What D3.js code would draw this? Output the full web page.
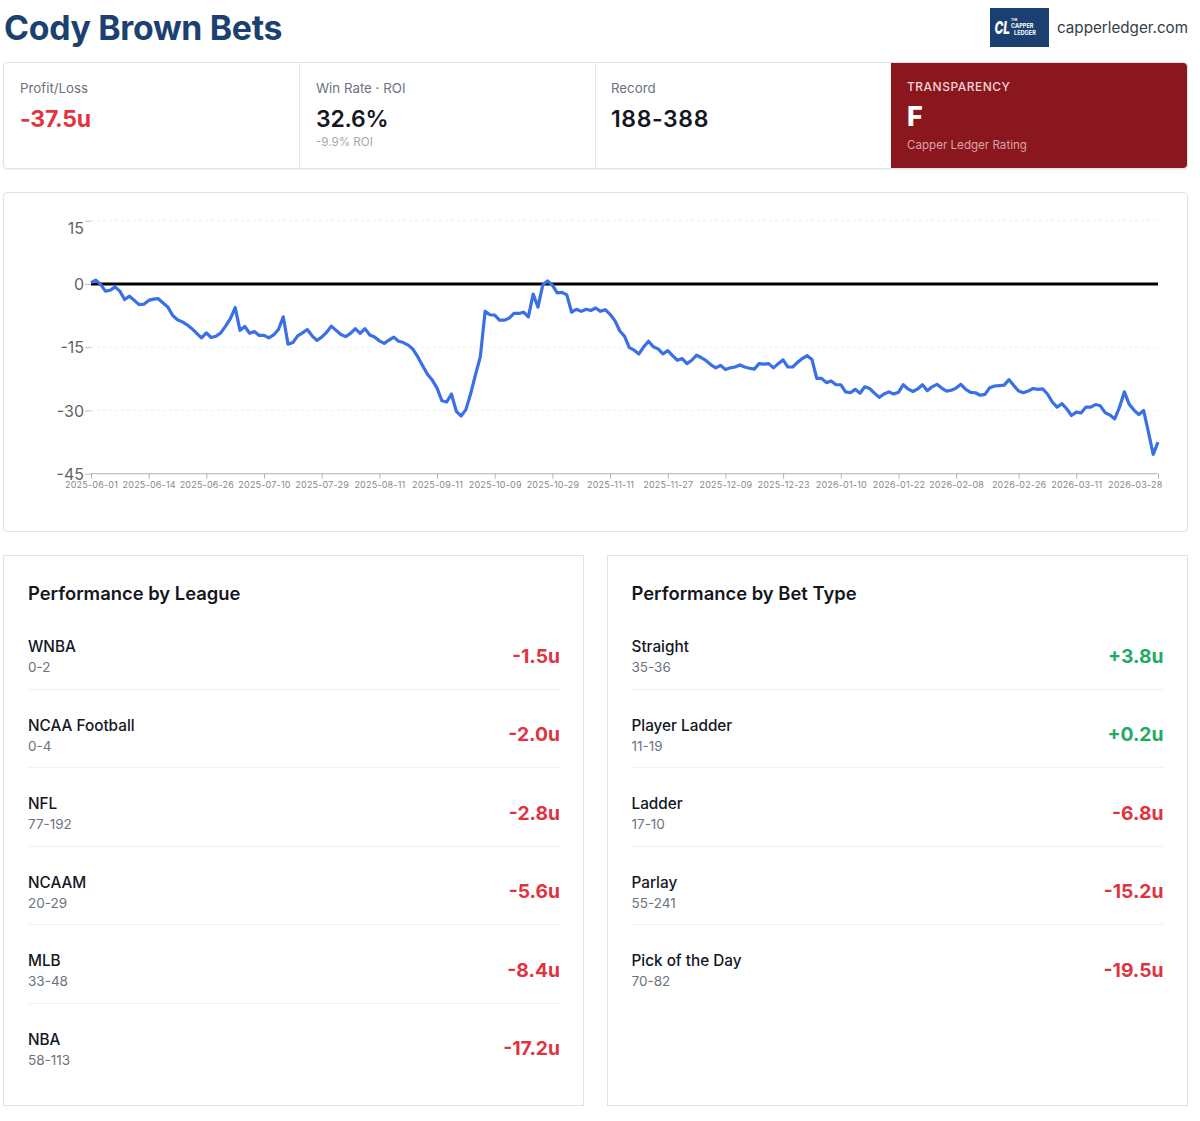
<!DOCTYPE html>
<html>
<head>
<meta charset="utf-8">
<script src="https://cdn.jsdelivr.net/npm/d3@7"></script>
<style>
    html, body { margin: 0; padding: 0; background: #fff; font-family: Inter, "Noto Sans", sans-serif; }
    #page { position: relative; width: 1200px; height: 1121px; overflow: hidden; }
    #page div { position: absolute; box-sizing: border-box; white-space: nowrap; }
    .card { background: #fff; border: 1px solid #dfe2e6; }
</style>
</head>
<body>
<div id="page"></div>
<script>
// cumulative profit, one value per bet day
const profit = [
    0.3, 0.9, -0.1, -1.7, -1.5, -0.7, -1.7, -3.7, -2.9, -3.9, -4.9, -4.8,
    -3.9, -3.6, -3.5, -4.5, -5.5, -7.5, -8.5, -9, -9.7, -10.6, -11.7, -12.8,
    -11.6, -12.7, -12.4, -11.6, -10, -8.2, -5.6, -11, -10.1, -11.7, -11.3, -12.2,
    -12.2, -12.8, -12.1, -10.8, -7.8, -14.3, -13.9, -12.3, -11.6, -10.8, -12.3, -13.4,
    -12.6, -11.5, -10, -11, -12, -12.5, -11.7, -10.6, -11.7, -10.6, -12.1, -12.6,
    -13.5, -14.1, -13.3, -12.6, -13.6, -13.9, -14.5, -15.5, -17.3, -19.4, -21.4, -22.8,
    -24.7, -27.7, -28, -26.1, -30.2, -31.3, -29.8, -26, -21.5, -17.3, -6.5, -7.3,
    -7.4, -8.6, -8.6, -8.1, -7, -7, -6.7, -7.8, -2.4, -5.5, -0.2, 0.7,
    -0.3, -2.1, -2, -2.6, -6.7, -6, -6.5, -6, -6.3, -5.7, -6.5, -6.1,
    -7.2, -8.7, -11.1, -12.4, -15.1, -15.7, -16.6, -14.9, -13.6, -14.9, -15.4, -16.6,
    -15.8, -17, -18.1, -17.7, -18.9, -18.1, -16.9, -17.5, -18.2, -19.2, -19.9, -19.3,
    -20.3, -19.9, -19.7, -19.2, -19.7, -20, -20.2, -18.9, -19, -18.9, -19.9, -18.9,
    -18, -19.7, -19.7, -18.6, -17.7, -17, -17.9, -22.4, -22.4, -23.4, -23, -23.9,
    -23.9, -25.6, -25.8, -25, -25.9, -24.4, -24.8, -25.9, -26.9, -26.1, -25.6, -26.1,
    -25.7, -23.9, -24.9, -25.5, -24.9, -23.9, -25.3, -24.4, -23.8, -24.7, -25.4, -25.2,
    -24.7, -23.8, -25, -25.7, -25.8, -26.4, -26.2, -24.6, -24.2, -24.1, -24, -22.7,
    -24.1, -25.4, -25.8, -25.4, -24.8, -25, -24.9, -26.1, -28, -29.2, -28.4, -29.6,
    -31.2, -30.4, -30.6, -29.2, -29.2, -28.6, -28.9, -30.5, -31.1, -32, -29.2, -25.6,
    -28.5, -29.9, -31, -30, -35.1, -40.4, -37.5
];
const dateLabels = [
    '2025-06-01', '2025-06-14', '2025-06-26', '2025-07-10', '2025-07-29', '2025-08-11',
    '2025-09-11', '2025-10-09', '2025-10-29', '2025-11-11', '2025-11-27', '2025-12-09',
    '2025-12-23', '2026-01-10', '2026-01-22', '2026-02-08', '2026-02-26', '2026-03-11', '2026-03-28'
];
const dateLabelIndex = [0, 12, 24, 36, 48, 60, 72, 84, 96, 108, 120, 132, 144, 156, 168, 180, 193, 205, 222];
const profitTicks = [15, 0, -15, -30, -45];

const leagueNames = ['WNBA', 'NCAA Football', 'NFL', 'NCAAM', 'MLB', 'NBA'];
const leagueRecords = ['0-2', '0-4', '77-192', '20-29', '33-48', '58-113'];
const leagueUnits = [-1.5, -2.0, -2.8, -5.6, -8.4, -17.2];

const betTypeNames = ['Straight', 'Player Ladder', 'Ladder', 'Parlay', 'Pick of the Day'];
const betTypeRecords = ['35-36', '11-19', '17-10', '55-241', '70-82'];
const betTypeUnits = [3.8, 0.2, -6.8, -15.2, -19.5];

const page = d3.select('#page');

function put(parent, left, top, str, size, weight, color) {
    return parent.append('div')
        .style('left', left + 'px').style('top', top + 'px')
        .style('font-size', size + 'px').style('font-weight', weight)
        .style('line-height', size + 'px').style('color', color)
        .text(str);
}
function box(left, top, width, height) {
    return page.append('div').attr('class', 'card')
        .style('left', left + 'px').style('top', top + 'px')
        .style('width', width + 'px').style('height', height + 'px');
}
function fmtUnits(v) {
    return (v > 0 ? '+' : '-') + Math.abs(v).toFixed(1) + 'u';
}

// header
put(page, 4, 11, 'Cody Brown Bets', 33.8, 700, '#1c4170').style('letter-spacing', '-0.3px');
put(page, 1057, 19.5, 'capperledger.com', 15.2, 400, '#363c46');

const logo = page.append('svg')
    .style('position', 'absolute').style('left', '990px').style('top', '8px')
    .attr('width', 59).attr('height', 39);
logo.append('rect').attr('width', 59).attr('height', 39).attr('fill', '#1c3f72');
logo.append('text').attr('transform', 'translate(4.5,26) scale(0.66,1)').attr('fill', '#fff')
    .attr('font-size', 18).attr('font-weight', 800).attr('font-style', 'italic').text('CL');
[['THE', 3.2, 21, 12.5], ['CAPPER', 5.6, 21, 19.5], ['LEDGER', 5.6, 24, 26.8]].forEach(t => {
    logo.append('text').attr('x', t[2]).attr('y', t[3]).attr('fill', '#fff')
        .attr('font-size', t[1]).attr('font-weight', 700).text(t[0]);
});

// stat strip
box(3, 62, 1185, 106.5).style('border-radius', '4px').style('box-shadow', '0 1px 2px rgba(0,0,0,.06)');
page.append('div').style('left', '299px').style('top', '63px').style('width', '1px').style('height', '105px').style('background', '#e6e8eb');
page.append('div').style('left', '595px').style('top', '63px').style('width', '1px').style('height', '105px').style('background', '#e6e8eb');

put(page, 20, 82, 'Profit/Loss', 13.3, 400, '#6b7280');
put(page, 20, 107.5, '-37.5u', 23, 700, '#e5323e').style('letter-spacing', '-0.3px');
put(page, 316, 82, 'Win Rate · ROI', 13.3, 400, '#6b7280');
put(page, 316, 107.5, '32.6%', 23, 600, '#14171f').style('letter-spacing', '-0.2px');
put(page, 316, 136.5, '-9.9% ROI', 11.6, 400, '#a3a8b0');
put(page, 611, 82, 'Record', 13.3, 400, '#6b7280');
put(page, 611, 107.5, '188-388', 23, 600, '#14171f').style('letter-spacing', '0.6px');

page.append('div').style('left', '891px').style('top', '63px').style('width', '296px').style('height', '105px')
    .style('background', '#8a171e').style('border-radius', '0 4px 4px 0');
put(page, 907, 80.5, 'TRANSPARENCY', 12, 500, '#f0d5d7').style('letter-spacing', '0.5px');
put(page, 907, 103, 'F', 27, 800, '#fff');
put(page, 907, 139.5, 'Capper Ledger Rating', 11.6, 400, '#dba3a7');

// chart panel
box(3, 192, 1185, 339.5).style('border-radius', '4px');

const margin = {top: 220.7, left: 91};
const chartWidth = 1067, chartHeight = 253;

const svg = page.append('svg')
    .style('position', 'absolute').style('left', 0).style('top', 0)
    .attr('width', 1200).attr('height', 540);
const chart = svg.append('g').attr('transform', 'translate(' + margin.left + ',' + margin.top + ')');

const xScale = d3.scalePoint().domain(d3.range(profit.length)).range([0, chartWidth]);
const yScale = d3.scaleLinear().domain([-45, 15]).range([chartHeight, 0]);

chart.append('g').selectAll('line').data(profitTicks.filter(d => d !== -45 && d !== 0)).join('line')
    .attr('x2', chartWidth).attr('y1', yScale).attr('y2', yScale)
    .attr('stroke', '#eceef0').attr('stroke-dasharray', '3 3');

const yAxis = d3.axisLeft(yScale).tickValues(profitTicks).tickFormat(d => String(d)).tickSize(6).tickPadding(1);
const yG = chart.append('g').call(yAxis);
yG.select('.domain').remove();
yG.selectAll('line').attr('stroke', '#bfc3c8');
yG.selectAll('text').attr('font-family', 'Inter').attr('font-size', 16).attr('fill', '#5f6369')
    .attr('dy', d => d === 15 ? '0.82em' : '0.36em');

const xAxis = d3.axisBottom(xScale).tickValues(dateLabelIndex)
    .tickFormat((d, i) => dateLabels[i]).tickSize(5).tickPadding(3);
const xG = chart.append('g').attr('transform', 'translate(0,' + chartHeight + ')').call(xAxis);
xG.select('.domain').attr('stroke', '#aeb2b7').attr('d', 'M0,0H' + chartWidth);
xG.selectAll('line').attr('stroke', '#aeb2b7');
xG.selectAll('text').attr('font-family', 'Inter').attr('font-size', 9).attr('fill', '#85898f')
    .attr('letter-spacing', 0.2);
// last label is pulled back inside the plot
xG.selectAll('.tick:last-of-type text').attr('text-anchor', 'end').attr('dx', 4);

// zero line sits over the grid, series on top of it
chart.append('line').attr('x2', chartWidth).attr('y1', yScale(0)).attr('y2', yScale(0))
    .attr('stroke', '#000').attr('stroke-width', 3);

const line = d3.line().x((d, i) => xScale(i)).y(d => yScale(d));
chart.append('path').datum(profit).attr('d', line)
    .attr('fill', 'none').attr('stroke', '#3b6fe6').attr('stroke-width', 3.2).attr('stroke-linejoin', 'round');

// breakdown panels
function breakdown(left, title, names, records, units) {
    const panel = box(left, 555, 581, 551);
    put(panel, 24, 28, title, 18.4, 600, '#14171f');
    const rows = panel.selectAll('div.row').data(names).join('div').attr('class', 'row')
        .style('left', '24px').style('width', '532px').style('height', '78.5px')
        .style('top', (d, i) => (55 + i * 78.5) + 'px')
        .style('border-bottom', (d, i) => i < names.length - 1 ? '1px solid #eff1f3' : 'none');
    rows.each(function(d, i) {
        const row = d3.select(this);
        put(row, 0, 28, d, 15.3, 500, '#14171f');
        put(row, 0, 50, records[i], 13.5, 400, '#6b7280');
        put(row, 0, 35.8, fmtUnits(units[i]), 19.3, 700, units[i] > 0 ? '#1faa68' : '#e0333f')
            .style('left', 'auto').style('right', '0');
    });
}
breakdown(3, 'Performance by League', leagueNames, leagueRecords, leagueUnits);
breakdown(606.5, 'Performance by Bet Type', betTypeNames, betTypeRecords, betTypeUnits);
</script>
</body>
</html>
